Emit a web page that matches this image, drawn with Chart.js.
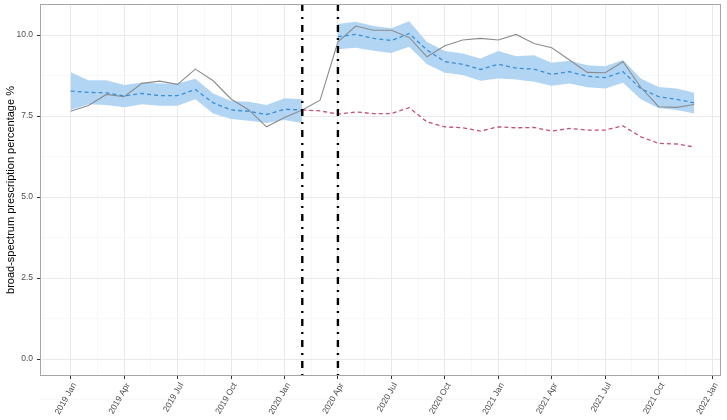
<!DOCTYPE html>
<html>
<head>
<meta charset="utf-8">
<script src="https://cdn.jsdelivr.net/npm/chart.js@4/dist/chart.umd.min.js"></script>
<style>
html,body{margin:0;padding:0;background:#fff;}
#wrap{width:727px;height:420px;position:relative;}
</style>
</head>
<body>
<div id="wrap"><canvas id="c" width="727" height="420"></canvas></div>
<script>
// month index 0 = 2019 Jan
const tickLabels = ['2019 Jan','2019 Apr','2019 Jul','2019 Oct','2020 Jan','2020 Apr','2020 Jul','2020 Oct','2021 Jan','2021 Apr','2021 Jul','2021 Oct','2022 Jan'];
const yTickLabels = [0, 2.5, 5, 7.5, 10];
const interventionMonths = [13, 15]; // 2020 Feb, 2020 Apr

const observed = [7.65,7.83,8.17,8.10,8.51,8.58,8.48,8.95,8.59,8.03,7.69,7.17,7.46,7.69,7.99,9.79,10.28,10.15,10.15,9.93,9.33,9.67,9.85,9.90,9.85,10.02,9.74,9.61,9.23,8.85,8.84,9.18,8.39,7.79,7.77,7.86];
const predicted = [8.27,8.23,8.22,8.12,8.20,8.13,8.13,8.32,7.91,7.69,7.65,7.55,7.71,7.69,null,9.95,10.02,9.90,9.83,10.05,9.54,9.18,9.10,8.94,9.10,8.98,8.95,8.79,8.87,8.73,8.69,8.87,8.35,8.10,8.02,7.91];
const upper = [8.85,8.61,8.61,8.46,8.54,8.51,8.51,8.65,8.20,7.97,7.94,7.84,8.05,8.02,null,10.34,10.41,10.28,10.21,10.43,9.79,9.51,9.43,9.28,9.51,9.35,9.38,9.15,9.21,9.07,9.04,9.23,8.66,8.40,8.35,8.22];
const lower = [7.69,7.87,7.84,7.77,7.87,7.82,7.82,8.02,7.58,7.41,7.36,7.29,7.38,7.29,null,9.56,9.61,9.52,9.45,9.64,9.10,8.84,8.77,8.59,8.66,8.63,8.56,8.44,8.51,8.39,8.35,8.53,8.02,7.74,7.69,7.58];
const counterfactual = [null,null,null,null,null,null,null,null,null,null,null,null,null,7.69,7.66,7.56,7.63,7.58,7.58,7.76,7.32,7.17,7.14,7.04,7.17,7.14,7.15,7.04,7.12,7.07,7.07,7.20,6.86,6.66,6.64,6.55];

function pts(arr, from, to) {
  const out = [];
  for (let i = from; i <= to; i++) if (arr[i] !== null) out.push({x: i, y: arr[i]});
  return out;
}
const n = observed.length;

const datasets = [
  {data: pts(lower, 0, 13), borderWidth: 0, pointRadius: 0, fill: false, order: 10, backgroundColor: 'rgba(0,0,0,0)'},
  {data: pts(upper, 0, 13), borderWidth: 0, pointRadius: 0, fill: 0, order: 10, backgroundColor: '#b2d5f3'},
  {data: pts(lower, 15, n - 1), borderWidth: 0, pointRadius: 0, fill: false, order: 10, backgroundColor: 'rgba(0,0,0,0)'},
  {data: pts(upper, 15, n - 1), borderWidth: 0, pointRadius: 0, fill: 2, order: 10, backgroundColor: '#b2d5f3'},
  {data: pts(observed, 0, n - 1), borderColor: '#8c8c8c', borderWidth: 1.1, pointRadius: 0, fill: false, order: 3},
  {data: pts(predicted, 0, 13), borderColor: '#3b8fd5', borderWidth: 1.3, borderDash: [4, 3], pointRadius: 0, fill: false, order: 2},
  {data: pts(predicted, 15, n - 1), borderColor: '#3b8fd5', borderWidth: 1.3, borderDash: [4, 3], pointRadius: 0, fill: false, order: 2},
  {data: pts(counterfactual, 0, n - 1), borderColor: '#c4506f', borderWidth: 1.3, borderDash: [4, 3], pointRadius: 0, fill: false, order: 1}
];

const xMajor = tickLabels.map((_, i) => i * 3);
const panelPlugin = {
  id: 'panel',
  afterDatasetsDraw(chart) {
    const ctx = chart.ctx, a = chart.chartArea, xs = chart.scales.x;
    ctx.save();
    ctx.strokeStyle = '#000';
    ctx.lineWidth = 2.4;
    ctx.setLineDash([7, 6, 2, 6]);
    interventionMonths.forEach(m => {
      const px = xs.getPixelForValue(m);
      ctx.beginPath();
      ctx.moveTo(px, a.top);
      ctx.lineTo(px, a.bottom);
      ctx.stroke();
    });
    ctx.restore();
  },
  afterDraw(chart) {
    const ctx = chart.ctx, a = chart.chartArea;
    ctx.save();
    ctx.strokeStyle = '#a6a6a6';
    ctx.lineWidth = 1;
    ctx.strokeRect(Math.round(a.left) + 0.5, Math.round(a.top) + 0.5, Math.round(a.right - a.left) - 1, Math.round(a.bottom - a.top) - 1);
    ctx.restore();
  }
};

new Chart(document.getElementById('c'), {
  type: 'line',
  data: {datasets},
  plugins: [panelPlugin],
  options: {
    responsive: false,
    animation: false,
    layout: {padding: {top: 4, right: 6, left: 0, bottom: 0}},
    plugins: {legend: {display: false}, tooltip: {enabled: false}, filler: {propagate: false}},
    elements: {line: {tension: 0}},
    scales: {
      x: {
        type: 'linear',
        min: -1.72,
        max: 36.5,
        border: {display: false},
        afterBuildTicks(scale) {
          const t = [];
          for (let v = -1.5; v <= 36.5; v += 1.5) t.push({value: v});
          scale.ticks = t;
        },
        afterFit(scale) { scale.height = 44; scale.paddingLeft = 0; scale.paddingRight = 0; },
        grid: {
          color: ctx => (ctx.tick && ctx.tick.value % 3 === 0) ? '#e9e9e9' : '#f3f3f3',
          lineWidth: ctx => (ctx.tick && ctx.tick.value % 3 === 0) ? 1 : 0.6,
          tickColor: ctx => (ctx.tick && ctx.tick.value % 3 === 0 && ctx.tick.value >= 0) ? '#333' : 'rgba(0,0,0,0)',
          tickLength: 3,
          drawTicks: true
        },
        ticks: {
          autoSkip: false,
          minRotation: 60,
          maxRotation: 60,
          padding: 2,
          labelOffset: 4,
          color: '#4d4d4d',
          font: {family: 'Liberation Sans', size: 8.5},
          callback: v => {
            const i = xMajor.indexOf(v);
            return i >= 0 ? tickLabels[i] : '';
          }
        }
      },
      y: {
        type: 'linear',
        min: -0.52,
        max: 10.96,
        border: {display: false},
        afterBuildTicks(scale) {
          const t = [];
          for (let v = -1.25; v <= 10.96; v += 1.25) t.push({value: v});
          scale.ticks = t;
        },
        afterFit(scale) { scale.width = 40; scale.paddingTop = 0; scale.paddingBottom = 0; },
        grid: {
          color: ctx => (ctx.tick && yTickLabels.includes(ctx.tick.value)) ? '#e9e9e9' : '#f3f3f3',
          lineWidth: ctx => (ctx.tick && yTickLabels.includes(ctx.tick.value)) ? 1 : 0.6,
          tickColor: ctx => (ctx.tick && yTickLabels.includes(ctx.tick.value)) ? '#333' : 'rgba(0,0,0,0)',
          tickLength: 3,
          drawTicks: true
        },
        ticks: {
          padding: 4,
          color: '#4d4d4d',
          font: {family: 'Liberation Sans', size: 8.5},
          callback: v => yTickLabels.includes(v) ? v.toFixed(1) : ''
        },
        title: {
          display: true,
          text: 'broad-spectrum prescription percentage %',
          color: '#000',
          font: {family: 'Liberation Sans', size: 11},
          padding: {top: 4, bottom: 0}
        }
      }
    }
  }
});
</script>
</body>
</html>
